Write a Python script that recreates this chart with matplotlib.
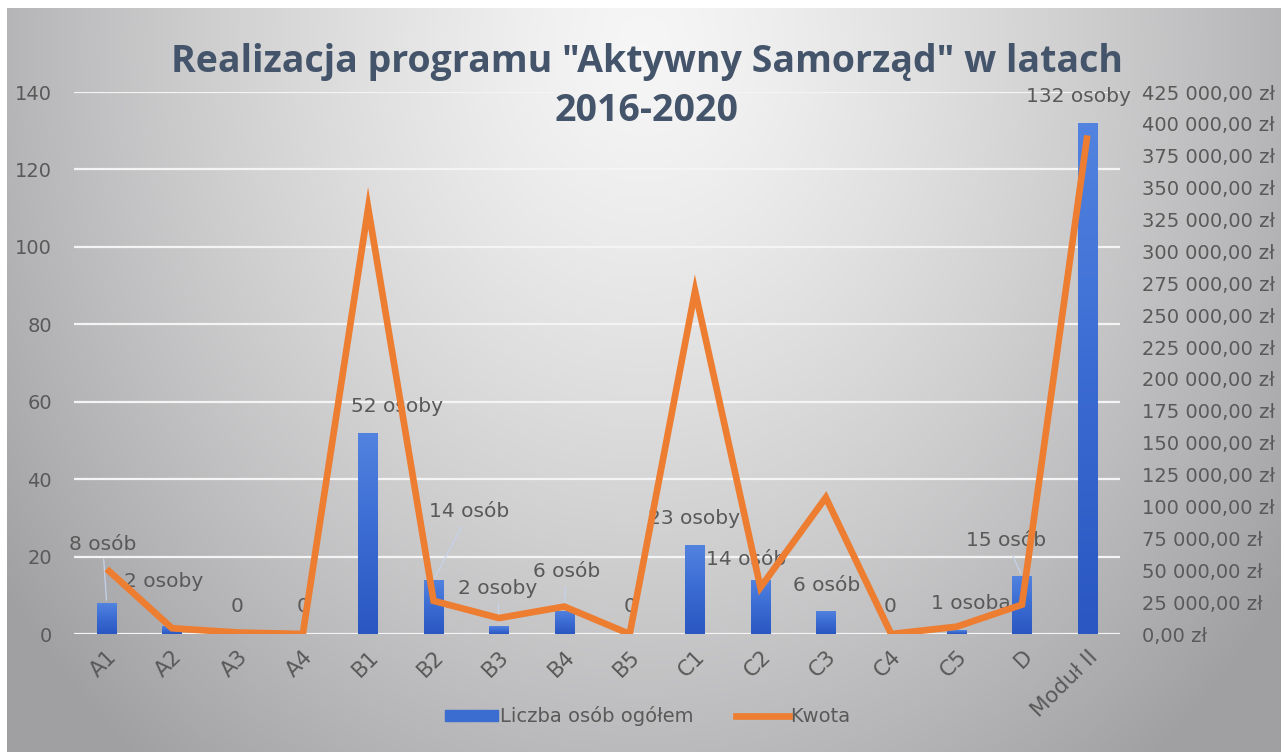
import numpy as np
import matplotlib
matplotlib.use("Agg")
import matplotlib.pyplot as plt
from matplotlib.patches import Rectangle
from matplotlib.lines import Line2D
from matplotlib.ticker import FuncFormatter, MultipleLocator
from matplotlib.colors import LinearSegmentedColormap

# ---------------- data ----------------
categories = ["A1", "A2", "A3", "A4", "B1", "B2", "B3", "B4", "B5",
              "C1", "C2", "C3", "C4", "C5", "D", "Moduł II"]
persons = [8, 2, 0, 0, 52, 14, 2, 6, 0, 23, 14, 6, 0, 1, 15, 132]
amount = [51000, 4500, 1200, 0, 334000, 26000, 12500, 21500, 0,
          269000, 36500, 107000, 0, 5700, 23000, 391000]
person_labels = ["8 osób", "2 osoby", "0", "0", "52 osoby", "14 osób", "2 osoby",
                 "6 osób", "0", "23 osoby", "14 osób", "6 osób", "0", "1 osoba",
                 "15 osób", "132 osoby"]
title_lines = ['Realizacja programu "Aktywny Samorząd" w latach', '2016-2020']
series_names = ["Liczba osób ogółem", "Kwota"]

# ---------------- style / layout ----------------
label_offsets_px = [(-4, 59), (-8, 45), (0, 28), (0, 28), (29, 26), (36, 68),
                    (-1, 38), (2, 39), (0, 28), (-1, 26), (-14, 20), (1, 25),
                    (-1, 27), (14, 27), (-16, 35), (-9, 26)]
leader = [True, False, False, False, False, True, True, True, False,
          False, False, False, False, False, True, False]
title_y_px = [62, 111]

W, H = 1284, 752
FONT = ["DejaVu Sans"]
plt.rcParams["font.family"] = FONT
TXT = "#595959"
ORANGE = "#ED7D31"
FS = 14
FS_LAB = 14.5
FS_X = 15.5

fig = plt.figure(figsize=(W / 100, H / 100), dpi=100)
fig.patch.set_facecolor("white")

# background radial gradient
bg = fig.add_axes([7 / W, 0.0, 1 - 10 / W, 1 - 8 / H], zorder=-10)
bg.set_axis_off()
ny, nx = 300, 500
yy, xx = np.mgrid[0:1:ny * 1j, 0:1:nx * 1j]
t = np.sqrt(((xx - 0.50) / 0.62) ** 2 + ((yy - 0.95) / 1.25) ** 2)
t = np.clip(t, 0, 1) ** 1.3
c0 = np.array([0.965, 0.965, 0.965])
c1 = np.array([0.63, 0.63, 0.64])
img = c0[None, None, :] * (1 - t[..., None]) + c1[None, None, :] * t[..., None]
bg.imshow(img, origin="lower", extent=(0, 1, 0, 1), aspect="auto")
bg.set_xlim(0, 1)
bg.set_ylim(0, 1)

left, right = 74 / W, 1120 / W
bottom, top = 1 - 634 / H, 1 - 92 / H
ax = fig.add_axes([left, bottom, right - left, top - bottom])
ax.patch.set_alpha(0)
x = np.arange(len(categories))

# gridlines
ax.set_ylim(0, 140)
ax.yaxis.set_major_locator(MultipleLocator(20))
ax.grid(axis="y", color="#f4f4f4", lw=1.6, zorder=0)
ax.set_axisbelow(True)

# bars with gradient
bw = 0.3
bars = ax.bar(x, persons, width=bw, color="#3B6CD0", zorder=2)
grad = np.linspace(0, 1, 100)[:, None]
cmap = LinearSegmentedColormap.from_list("b", ["#2A57C2", "#3A6BD2", "#5283E0"])
for b in bars:
    h = b.get_height()
    if h <= 0:
        continue
    x0 = b.get_x()
    im = ax.imshow(grad, extent=(x0, x0 + bw, 0, h), origin="lower",
                   cmap=cmap, aspect="auto", zorder=2.1)
    im.set_clip_path(b)

ax.set_xlim(-0.5, len(categories) - 0.5)
ax.set_ylim(0, 140)
for s in ax.spines.values():
    s.set_visible(False)
ax.tick_params(axis="both", length=0, colors=TXT, labelsize=FS)
ax.tick_params(axis="y", pad=16)
ax.set_xticks(x)
ax.set_xticklabels(categories, rotation=45, ha="right", va="top",
                   rotation_mode="anchor", color=TXT, fontsize=FS_X)
ax.tick_params(axis="x", pad=9)

# data labels
for i, (v, lab) in enumerate(zip(persons, person_labels)):
    dx, dy = label_offsets_px[i]
    kw = {}
    if leader[i]:
        kw["arrowprops"] = dict(arrowstyle="-", color="#c5d2ea", lw=0.9,
                                shrinkA=2, shrinkB=2)
    ax.annotate(lab, xy=(i, v), xytext=(dx, dy), textcoords="offset pixels",
                ha="center", va="center", fontsize=FS_LAB, color=TXT,
                zorder=5, **kw)

# secondary axis line
ax2 = ax.twinx()
ax2.patch.set_alpha(0)
ax2.plot(x, amount, color=ORANGE, lw=4.8, solid_joinstyle="miter",
         solid_capstyle="butt", zorder=4)
ax2.set_ylim(0, 425000)
ax2.yaxis.set_major_locator(MultipleLocator(25000))
ax2.yaxis.set_major_formatter(FuncFormatter(
    lambda v, p: f"{v:,.2f}".replace(",", " ").replace(".", ",") + " zł"))
for s in ax2.spines.values():
    s.set_visible(False)
ax2.tick_params(axis="y", length=0, colors=TXT, labelsize=FS, pad=16)

# title (two lines, drawn separately)
for line, ypx in zip(title_lines, title_y_px):
    fig.text(647 / W, 1 - ypx / H, line, ha="center", va="center",
             fontsize=27, fontweight="bold", color="#44546A",
             family=["Open Sans", "DejaVu Sans"])

# legend
handles = [Rectangle((0, 0), 1, 1, color="#3B6CD0"),
           Line2D([0], [0], color=ORANGE, lw=4.8)]
leg = fig.legend(handles, series_names, loc="center", bbox_to_anchor=(648 / W, 1 - 716 / H),
                 ncol=2, frameon=False, fontsize=FS, handlelength=2.7,
                 handleheight=0.5, handletextpad=0.1, columnspacing=2.2)
for t_ in leg.get_texts():
    t_.set_color(TXT)

fig.savefig("out.png", dpi=100)
